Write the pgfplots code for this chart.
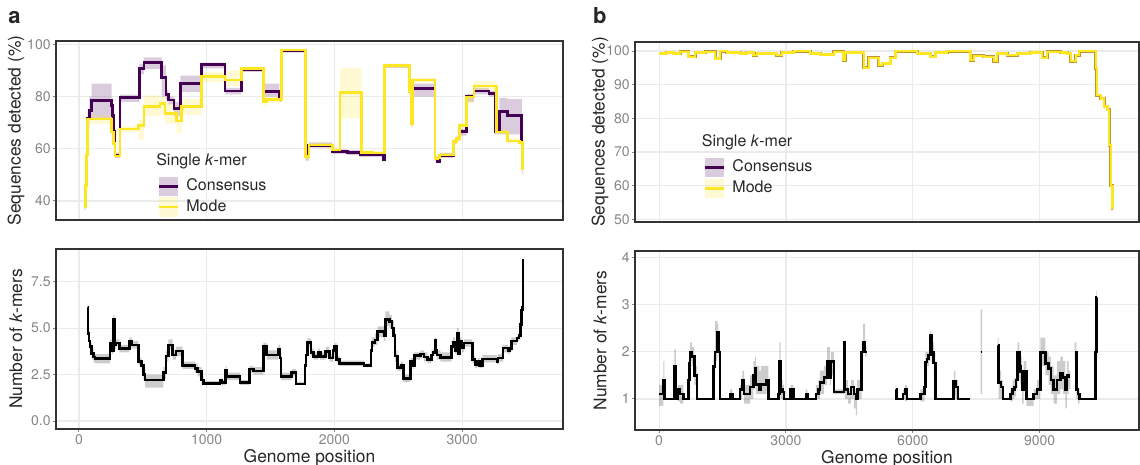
\documentclass[border=0pt]{standalone}
\usepackage{pgfplots}
\pgfplotsset{compat=1.18}
\usepgfplotslibrary{fillbetween}
\usepackage{pgfplotstable}
\usepackage{fontspec}
\setmainfont{TeX Gyre Heros}

\definecolor{purp}{HTML}{440154}
\definecolor{yell}{HTML}{FDE725}
\definecolor{gridc}{HTML}{EBEBEB}
\definecolor{tickc}{HTML}{858585}
\definecolor{framec}{HTML}{333333}

\pgfplotstableread{
x y lo hi
42 37.8 36.5 39
50 46 45 48
60 57.6 55 59
68 71.6 68 74
81 74.8 71 80
99 78.4 71.6 85
256 76.5 74 79
264 72.9 71 75
269 66.5 65 68
282 57.6 56.5 58.5
321 79.7 78 80.7
473 90.8 88.5 92.5
509 93.0 90.5 95
647 87.2 80 92
681 80.8 79 82.5
699 78.7 77 80
744 75.5 72.5 78
793 85.1 81.8 88
960 92.3 90.8 93
1143 82.1 80.8 83.3
1274 90.5 89.5 91.3
1443 81.8 80 85
1570 80 78 82
1587 97.5 96.8 98
1775 57 55.5 58
1800 61.4 60.4 62.4
1984 58.8 58 59.8
2100 58.6 57.6 59.6
2200 57.6 56.8 58.5
2385 56 55 57
2392 91.8 91 92.5
2587 82 81 83
2602 69.7 68.5 71
2612 83.1 80 85
2788 56.3 55.3 57.3
2805 55.2 54.5 56.5
2825 57.4 56.5 58.3
2931 62.7 61.8 63.6
2957 64 63 65
2978 66.5 65 67.5
3036 79.9 78 81
3093 82.1 80.8 83.3
3210 81.2 80 82.3
3258 66.5 65.5 67.5
3291 74.4 65.5 79.5
3354 72.6 65.5 79
3467 62.5 61 64
3472 52.5 50 55
3478 52.5 50 55
}\consA

\pgfplotstableread{
x y lo hi
42 37.8 36.5 39
50 46 45 48
60 57.6 55 59
68 71.4 69.5 73
256 66.5 65 68
269 62 60.5 63.5
282 57.3 56.3 58.3
321 67.6 66.5 68.8
465 68.8 63.5 71
509 76.1 72.5 80.5
634 77.4 73.5 80
673 73.6 69.5 77.5
765 70.6 66 73
804 76.1 73 79
960 87.6 85.5 89.5
1143 86.3 84 90
1274 90.8 89.8 91.5
1443 78 76.5 79.5
1470 78.9 77.5 80
1587 97.8 97 98.3
1775 57 55.5 58
1800 61.4 60.4 62.4
1984 59.5 58.5 60.5
2044 81.6 71.6 91
2214 58.6 57.5 59.5
2300 58.3 57.3 59.3
2392 91.8 91 92.5
2587 82 81 83
2602 69.7 68.5 71
2612 86.3 85.3 87.3
2788 56.3 55.3 57.3
2805 56.5 55.5 57.5
2825 57.6 56.6 58.6
2931 62.7 61.8 63.6
2957 64 63 65
2978 68.8 67.5 69.8
3036 79.9 77.5 81
3093 84.1 82.5 86
3271 66.5 65.5 67.5
3354 63 62 64
3450 62.3 61.3 63.3
3474 52.5 50 55
3478 52.5 50 55
}\modeA

\pgfplotstableread{
x y lo hi
68 6.1 5.8 6.3
71 4.7 4.4 5.0
78 4.3 4.0 4.6
86 4.0 3.7 4.2
100 3.64 3.3 3.9
115 3.45 3.15 3.7
125 3.37 3.1 3.6
243 4.2 3.9 4.4
256 3.8 3.6 4.0
270 5.5 5.0 5.7
280 4.1 3.85 4.3
290 4.2 4.0 4.4
316 3.9 3.7 4.1
394 4.27 4.0 4.5
412 4.1 3.9 4.3
465 3.2 3.0 3.4
490 3.0 2.7 3.2
505 2.5 2.2 2.8
517 2.2 1.8 2.5
660 2.6 2.3 2.9
680 3.5 3.2 3.8
700 4.1 3.85 4.4
733 3.55 3.3 3.8
760 3.77 3.5 4.0
812 3.0 2.8 3.2
908 2.84 2.6 3.1
929 2.66 2.4 2.9
960 2.2 2.0 2.4
975 2.03 1.95 2.15
1104 2.2 2.0 2.3
1117 2.08 1.95 2.2
1148 2.75 2.5 2.95
1156 2.4 2.2 2.6
1261 2.08 1.95 2.2
1334 2.8 2.6 2.95
1365 2.7 2.5 2.9
1443 4.0 3.6 4.2
1469 3.55 3.3 3.8
1561 3.88 3.6 4.1
1574 3.4 3.1 3.7
1582 2.4 2.2 2.6
1665 2.6 2.4 2.8
1699 2.0 1.95 2.1
1770 3.0 2.8 3.3
1777 3.55 3.3 3.8
1789 4.23 4.0 4.45
1817 3.7 3.5 3.9
1837 3.48 3.3 3.7
1874 3.7 3.5 3.9
1889 3.48 3.3 3.7
1931 3.75 3.5 4.0
1960 3.4 3.2 3.6
1989 3.8 3.6 4.0
2003 4.0 3.8 4.2
2017 3.3 3.1 3.5
2040 3.09 2.95 3.25
2231 2.98 2.9 3.1
2288 3.8 3.5 4.1
2294 4.23 4.0 4.5
2317 4.37 4.1 4.7
2339 4.82 4.5 5.1
2388 4.6 4.3 5.0
2400 5.45 5.1 5.9
2431 5.35 5.0 5.7
2450 5.0 4.7 5.4
2465 4.6 4.3 4.9
2475 3.5 3.2 3.8
2494 2.89 2.7 3.1
2522 3.0 2.8 3.2
2539 2.29 2.1 2.5
2596 3.21 2.9 3.4
2616 3.0 2.8 3.3
2625 3.52 3.3 3.7
2673 3.6 3.4 3.8
2702 3.45 3.2 3.7
2730 3.3 3.1 3.5
2759 3.55 3.3 3.8
2773 3.7 3.5 3.9
2787 4.32 4.0 4.5
2796 3.8 3.6 4.0
2802 3.55 3.3 3.8
2830 3.43 3.2 3.7
2916 4.0 3.8 4.3
2930 4.25 4.0 4.5
2945 3.8 3.6 4.0
2959 4.7 4.4 5.0
2973 3.6 3.4 3.9
2979 4.3 4.0 4.5
2996 3.93 3.7 4.2
3016 4.2 4.0 4.4
3081 3.3 3.1 3.5
3101 3.04 2.85 3.2
3121 3.2 3.0 3.4
3138 3.0 2.85 3.2
3158 3.34 3.15 3.55
3272 3.2 3.05 3.4
3281 3.4 3.2 3.6
3321 3.93 3.7 4.1
3358 3.8 3.6 4.0
3372 3.9 3.7 4.1
3386 4.3 4.1 4.5
3429 4.46 4.3 4.6
3444 4.6 4.4 4.8
3458 5.18 5.0 5.4
3466 5.98 5.8 6.2
3472 6.1 5.9 6.3
3476 8.63 8.5 8.8
3480 8.63 8.5 8.8
}\kmerA

\pgfplotstableread{
x y
0 99.3
182 99.6
339 99.3
497 99.8
695 98.3
853 99.6
1090 99.8
1326 97.8
1445 100
1603 99.6
1918 99.3
2076 99.6
2234 98.8
2313 99.3
2787 98.8
2905 99.6
3182 100
3576 99.3
3813 99
4129 99.8
4350 97.3
4405 99.6
4840 95
4958 98
5195 95.8
5274 96.3
5471 98
5590 100
6103 99.3
6419 98.3
6537 99.6
6813 100
7366 97.3
7445 98.6
7682 98.3
7919 97
7998 99.3
8234 98.8
8471 99.3
8787 99.6
9063 98
9181 99.8
9497 99.6
9655 99.3
9734 97
9853 98.8
9932 100
10327 94.9
10350 86.9
10445 85.9
10524 83.5
10603 82.5
10642 72
10682 60
10721 53.3
10740 53.3
}\seqB

\pgfplotstableread{
x y lo hi
0 1.1 0.85 1.3
102 1.4 1.1 1.8
126 1.0 1.0 1.0
362 1.7 1.3 2.05
394 1.0 1.0 1.1
441 1.2 0.95 1.3
496 1.1 0.9 1.3
575 1.0 1.0 1.0
693 1.4 1.2 1.8
717 1.76 1.5 2.0
732 2.0 1.8 2.2
772 1.9 1.7 2.1
835 1.5 1.3 1.7
900 1.0 1.0 1.0
1283 1.69 1.5 1.9
1323 2.0 1.8 2.65
1378 2.41 2.2 2.6
1402 2.0 1.9 2.1
1441 1.0 1.0 1.0
1677 1.1 1.0 1.2
1732 1.0 1.0 1.0
1913 1.2 1.0 1.3
1969 1.4 1.2 1.6
2008 1.1 0.9 1.3
2150 1.25 1.0 1.5
2228 1.5 1.2 1.8
2268 1.65 1.3 1.9
2291 1.3 1.1 1.7
2370 1.2 1.1 1.6
2409 1.3 1.1 1.7
2543 1.4 1.2 1.7
2583 1.0 1.0 1.0
2819 1.1 1.0 1.2
2843 1.79 1.5 2.2
2874 1.2 1.0 1.4
2921 1.15 1.0 1.3
2953 1.0 1.0 1.0
3110 1.2 1.0 1.3
3173 1.0 1.0 1.0
3472 1.1 1.0 1.2
3504 1.0 1.0 1.0
3709 1.1 1.0 1.3
3764 1.2 1.0 1.4
3803 1.35 1.1 1.6
3898 1.45 1.3 1.7
3976 1.8 1.5 2.1
4039 1.45 1.3 1.8
4063 1.8 1.5 2.0
4134 1.15 1.1 1.2
4370 2.2 1.9 2.2
4394 1.2 1.0 1.4
4472 1.1 0.9 1.2
4535 1.25 1.0 1.4
4606 1.1 0.8 1.2
4654 1.0 0.65 1.0
4685 1.2 1.0 1.4
4787 2.0 1.8 2.2
4827 2.2 2.0 2.6
4870 2.0 1.9 2.1
4906 2.0 1.9 2.1
}\kmerBa

\pgfplotstableread{
x y lo hi
5591 1.2 1.0 1.3
5614 1.0 1.0 1.0
5772 1.1 1.0 1.2
5811 1.2 0.95 1.3
5866 1.0 1.0 1.0
6181 1.1 0.95 1.2
6276 1.25 1.1 1.5
6299 1.78 1.5 2.0
6339 1.85 1.7 2.0
6378 1.93 1.8 2.1
6417 2.34 2.1 2.45
6441 2.0 1.8 2.2
6496 1.76 1.5 2.0
6535 1.0 1.0 1.0
6969 1.37 1.1 1.6
7008 1.25 1.0 1.4
7071 1.0 1.0 1.0
7346 1.0 1.0 1.0
}\kmerBb

\pgfplotstableread{
x y lo hi
7605 2.0 1.1 2.9
7640 2.0 1.1 2.9
}\kmerBc

\pgfplotstableread{
x y lo hi
8008 2.13 1.9 2.3
8031 1.35 1.0 1.6
8087 1.25 1.0 1.4
8134 1.0 1.0 1.0
8307 1.1 0.95 1.2
8362 1.2 1.0 1.4
8402 1.25 1.05 1.45
8441 1.4 1.2 1.6
8480 2.0 1.6 2.2
8520 1.7 1.4 2.0
8543 1.58 1.3 1.9
8583 1.2 0.9 1.5
8622 1.59 1.2 1.8
8685 1.0 0.85 1.0
8858 1.1 1.0 1.2
8937 1.2 1.0 1.4
9016 1.99 1.7 2.3
9134 1.75 1.5 2.0
9213 1.64 1.3 1.9
9268 1.4 1.1 1.7
9331 1.2 0.9 1.5
9410 1.4 1.1 1.8
9488 1.55 1.2 1.9
9551 1.45 1.1 1.8
9606 1.2 0.8 1.5
9646 1.5 1.1 1.8
9685 1.47 1.2 1.6
9724 1.47 1.2 1.6
}\kmerBd

\pgfplotstableread{
x y lo hi
9827 2.0 1.8 2.2
9866 1.2 1.0 1.4
9906 1.1 0.9 1.2
9945 1.0 1.0 1.0
10315 2.0 2.0 2.1
10339 3.15 3.0 3.3
10354 3.15 3.0 3.3
}\kmerBe

\pgfplotsset{
  base/.style={
    scale only axis,
    axis line style={framec, line width=0.7pt},
    grid=major,
    major grid style={gridc, line width=0.6pt},
    tick style={tickc, line width=0.5pt},
    major tick length=1.5pt,
    tick align=outside,
    xtick pos=left, ytick pos=left,
    ticklabel style={font=\fontsize{7}{8}\selectfont, text=tickc},
    yticklabel style={inner sep=1pt},
    xticklabel style={inner sep=1pt},
    /pgf/number format/assume math mode=true,
    /pgf/number format/1000 sep={},
    scaled ticks=false,
    every axis x label/.style={at={(axis description cs:0.5,0)}, anchor=center, yshift=-14.4pt,
      font=\fontsize{8.7}{10}\selectfont, text=black!85},
  },
  ylab/.style={every axis y label/.style={at={(axis description cs:#1,0.5)}, rotate=90, anchor=center,
      font=\fontsize{8.7}{10}\selectfont, text=black!85}},
  topleg/.style={
    legend style={at={(axis description cs:#1)}, anchor=north west, draw=none, fill=none,
      inner sep=0pt, outer sep=0pt, row sep=0.8pt, font=\fontsize{8}{9}\selectfont, text=black!85,
      nodes={inner sep=0pt}, /tikz/every odd column/.append style={column sep=3.6pt}},
    legend cell align=left,
  },
  ribA/.style={draw=none, const plot},
  keyP/.style={legend image code/.code={\path[fill=purp, fill opacity=0.2, draw=none] (0pt,-4.8pt) rectangle (9.2pt,4.8pt); \draw[purp, line width=1.4pt] (0pt,0pt) -- (9.2pt,0pt);}},
  keyY/.style={legend image code/.code={\path[fill=yell, fill opacity=0.2, draw=none] (0pt,-4.8pt) rectangle (9.2pt,4.8pt); \draw[yell, line width=1.4pt] (0pt,0pt) -- (9.2pt,0pt);}},
}

\begin{document}
\begin{tikzpicture}
\node[anchor=base west, inner sep=0pt, font=\fontsize{11}{12}\selectfont\bfseries, text=black!85] at (4pt,220.5pt) {a};
\node[anchor=base west, inner sep=0pt, font=\fontsize{11}{12}\selectfont\bfseries, text=black!85] at (296.3pt,220.5pt) {b};

% ---------- panel a, top ----------
\begin{axis}[base, topleg={0.2012,0.242}, ylab=-0.079, at={(28pt,122.5pt)}, anchor=south west,
  width=253.5pt, height=89.5pt,
  xmin=-180, xmax=3790, ymin=32.7, ymax=101.3,
  xtick={0,1000,2000,3000}, xticklabels={}, major x tick style={draw=none},
  ytick={40,60,80,100},
  ylabel={Sequences detected (\%)}]
\addlegendimage{keyP}
\addlegendentry{Consensus}
\addlegendimage{keyY}
\addlegendentry{Mode}
\addplot[ribA, name path=pAcu] table[x=x,y=hi]{\consA};
\addplot[ribA, name path=pAcl] table[x=x,y=lo]{\consA};
\addplot[purp, fill opacity=0.2, draw=none] fill between[of=pAcu and pAcl];
\addplot[ribA, name path=pAmu] table[x=x,y=hi]{\modeA};
\addplot[ribA, name path=pAml] table[x=x,y=lo]{\modeA};
\addplot[yell, fill opacity=0.2, draw=none] fill between[of=pAmu and pAml];
\addplot[const plot, purp, line width=1.4pt] table[x=x,y=y]{\consA};
\addplot[const plot, yell, line width=1.3pt] table[x=x,y=y]{\modeA};
\node[anchor=west, inner sep=0pt, font=\fontsize{8}{9}\selectfont, text=black!85] at (axis description cs:0.197,0.330) {Single \textit{k}-mer};
\end{axis}

% ---------- panel a, bottom ----------
\begin{axis}[base, ylab=-0.079, at={(28pt,18pt)}, anchor=south west,
  width=253.5pt, height=90pt,
  xmin=-180, xmax=3790, ymin=-0.43, ymax=9.26,
  xtick={0,1000,2000,3000},
  ytick={0,2.5,5,7.5},
  yticklabel style={/pgf/number format/.cd, fixed, fixed zerofill, precision=1},
  ylabel={Number of \textit{k}-mers}, xlabel={Genome position}]
\addplot[ribA, name path=pBku] table[x=x,y=hi]{\kmerA};
\addplot[ribA, name path=pBkl] table[x=x,y=lo]{\kmerA};
\addplot[black, fill opacity=0.2, draw=none] fill between[of=pBku and pBkl];
\addplot[const plot, black, line width=1.3pt] table[x=x,y=y]{\kmerA};
\end{axis}

% ---------- panel b, top ----------
\begin{axis}[base, topleg={0.137,0.356}, ylab=-0.0694, at={(317.5pt,121.5pt)}, anchor=south west,
  width=252pt, height=90pt,
  xmin=-570, xmax=11350, ymin=49.2, ymax=102.7,
  xtick={0,3000,6000,9000}, xticklabels={}, major x tick style={draw=none},
  ytick={50,60,70,80,90,100},
  ylabel={Sequences detected (\%)}]
\addlegendimage{keyP}
\addlegendentry{Consensus}
\addlegendimage{keyY}
\addlegendentry{Mode}
\addplot[const plot, purp!35!yell, line width=1.5pt] table[x=x,y=y]{\seqB};
\addplot[const plot, yell, line width=1.1pt] table[x=x,y=y]{\seqB};
\node[anchor=west, inner sep=0pt, font=\fontsize{8}{9}\selectfont, text=black!85] at (axis description cs:0.132,0.444) {Single \textit{k}-mer};
\end{axis}

% ---------- panel b, bottom ----------
\begin{axis}[base, ylab=-0.0694, at={(317.5pt,17.5pt)}, anchor=south west,
  width=252pt, height=89.5pt,
  xmin=-570, xmax=11350, ymin=0.34, ymax=4.14,
  xtick={0,3000,6000,9000},
  ytick={1,2,3,4},
  ylabel={Number of \textit{k}-mers}, xlabel={Genome position}]
\addplot[ribA, name path=pDau] table[x=x,y=hi]{\kmerBa};
\addplot[ribA, name path=pDal] table[x=x,y=lo]{\kmerBa};
\addplot[black, fill opacity=0.2, draw=none] fill between[of=pDau and pDal];
\addplot[ribA, name path=pDbu] table[x=x,y=hi]{\kmerBb};
\addplot[ribA, name path=pDbl] table[x=x,y=lo]{\kmerBb};
\addplot[black, fill opacity=0.2, draw=none] fill between[of=pDbu and pDbl];
\addplot[ribA, name path=pDcu] table[x=x,y=hi]{\kmerBc};
\addplot[ribA, name path=pDcl] table[x=x,y=lo]{\kmerBc};
\addplot[black, fill opacity=0.2, draw=none] fill between[of=pDcu and pDcl];
\addplot[ribA, name path=pDdu] table[x=x,y=hi]{\kmerBd};
\addplot[ribA, name path=pDdl] table[x=x,y=lo]{\kmerBd};
\addplot[black, fill opacity=0.2, draw=none] fill between[of=pDdu and pDdl];
\addplot[ribA, name path=pDeu] table[x=x,y=hi]{\kmerBe};
\addplot[ribA, name path=pDel] table[x=x,y=lo]{\kmerBe};
\addplot[black, fill opacity=0.2, draw=none] fill between[of=pDeu and pDel];
\addplot[const plot, black, line width=1.3pt] table[x=x,y=y]{\kmerBa};
\addplot[const plot, black, line width=1.3pt] table[x=x,y=y]{\kmerBb};
\addplot[const plot, black, line width=1.3pt] table[x=x,y=y]{\kmerBc};
\addplot[const plot, black, line width=1.3pt] table[x=x,y=y]{\kmerBd};
\addplot[const plot, black, line width=1.3pt] table[x=x,y=y]{\kmerBe};
\end{axis}
\pgfresetboundingbox
\path[use as bounding box] (0,0) rectangle (570pt,232.5pt);
\end{tikzpicture}
\end{document}
